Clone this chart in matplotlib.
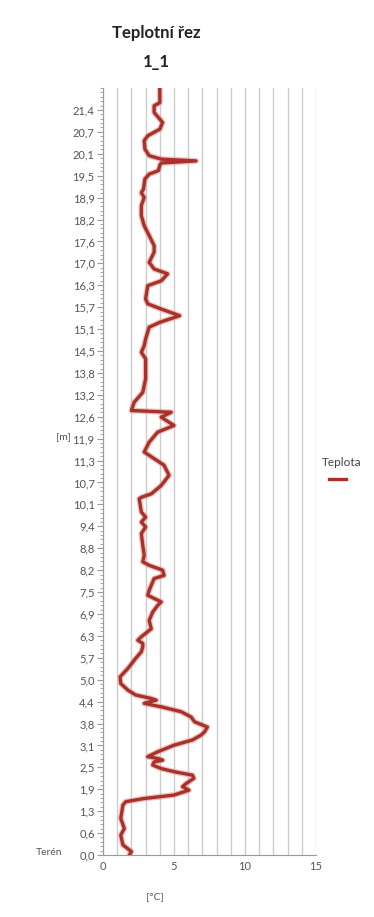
#! /usr/bin/env python3
# -*- coding: UTF-8 -*-

import matplotlib
matplotlib.use('Agg')
import matplotlib.pyplot as plt
from matplotlib.lines import Line2D
import numpy as np

# teplota [°C] a hloubka [m]
teplota = [4.0, 4.0, 3.6, 3.6, 4.2, 4.0, 3.15, 2.9, 2.95, 3.25, 4.1, 6.55, 4.1, 4.0,
           3.9, 3.25, 2.95, 2.85, 2.7, 2.9, 2.7, 2.7,
           2.9, 3.25, 3.6, 3.6, 3.25, 3.6, 4.55, 4.1, 3.15, 3.0, 3.15, 4.1, 5.4, 4.0,
           3.25, 3.0, 2.9,
           2.7, 3.0, 3.0, 2.8, 2.2, 2.0, 4.8, 4.1, 5.0, 3.85, 3.25, 2.9, 3.6, 4.3, 4.65,
           4.1, 3.4, 2.7, 2.55, 2.7, 3.0, 2.7, 3.0, 2.7, 2.8, 2.9, 2.8, 3.25, 4.2, 4.3,
           3.6, 3.25, 3.15, 4.1, 3.85,
           3.5, 3.25, 3.4, 2.7, 2.45, 2.8, 2.8, 2.7, 2.3, 1.75, 1.2, 1.25, 1.75, 2.3,
           3.4, 3.75, 3.25, 2.9, 4.1, 5.5, 6.2, 6.45, 7.35, 7.15, 6.9,
           6.3, 5.0, 3.85, 3.15, 3.85, 4.2, 3.6, 3.5, 4.1, 5.0, 6.3, 6.4, 5.85, 5.6,
           6.05, 5.0, 2.9, 1.6, 1.4, 1.25, 1.5, 1.25, 1.4, 2.0, 1.9]
hloubka = [21.97, 21.58, 21.49, 21.30, 21.01, 20.82, 20.63, 20.49, 20.25, 20.06, 19.96,
           19.91, 19.85, 19.79, 19.63, 19.53, 19.39, 19.10, 19.00, 18.86, 18.63, 18.34,
           18.05, 17.77, 17.48, 17.29, 17.00, 16.81, 16.67, 16.47, 16.33, 15.95, 15.81,
           15.66, 15.47, 15.28, 15.14, 14.80, 14.61,
           14.42, 14.23, 13.66, 13.27, 12.99, 12.75, 12.70, 12.56, 12.32, 12.13, 11.84,
           11.56, 11.37, 11.18, 10.89,
           10.60, 10.36, 10.26, 10.22, 9.84, 9.69, 9.55, 9.41, 9.22, 8.88, 8.60, 8.41,
           8.31, 8.17, 8.02, 7.93, 7.59, 7.45, 7.26, 7.16,
           6.97, 6.73, 6.49, 6.26, 6.16, 6.07, 5.97, 5.83, 5.64, 5.35, 5.11, 4.92, 4.73,
           4.59, 4.49, 4.44, 4.39, 4.35, 4.25, 4.11, 3.96, 3.82, 3.67, 3.53, 3.44,
           3.30, 3.15, 2.96, 2.82, 2.77, 2.72, 2.67, 2.58, 2.48, 2.39, 2.29, 2.20, 2.05,
           1.96, 1.86, 1.72, 1.62, 1.53, 1.43, 1.05, 0.76, 0.57, 0.29, 0.10, 0.03]

x_ticks = [0, 5, 10, 15]
y_max = 22.0
pocet_intervalu = 35

plt.rcParams['font.family'] = ['Lato', 'DejaVu Sans']

fig = plt.figure(figsize=(3.74, 9.17), dpi=100)
ax = fig.add_axes([0.2754, 0.0676, 0.5696, 0.8364])

# mrizka - svisle cary po 1 °C
ax.set_xlim(0, 15)
ax.set_ylim(0, y_max)
ax.set_xticks(x_ticks)
ax.set_xticks(np.arange(0, 16, 1), minor=True)
ax.grid(axis='x', which='both', color='#cccccc', linewidth=1.0)
ax.set_axisbelow(True)

y_ticks = np.arange(0, pocet_intervalu) * y_max / pocet_intervalu
y_labels = [('%.1f' % v).replace('.', ',') for v in y_ticks]
ax.set_yticks(y_ticks)
ax.set_yticklabels(y_labels)
ax.set_yticks(np.arange(0, pocet_intervalu * 5 + 1) * y_max / (pocet_intervalu * 5), minor=True)

ax.plot(teplota, hloubka, color='#e79a95', linewidth=4.2, alpha=0.6, solid_joinstyle='round')
ax.plot(teplota, hloubka, color='#a8322b', linewidth=2.4, solid_joinstyle='round')

for s in ['top', 'right']:
    ax.spines[s].set_visible(False)
ax.spines['left'].set_color('#9a9a9a')
ax.spines['bottom'].set_color('#9a9a9a')
ax.tick_params(axis='both', which='major', labelsize=8, colors='#9a9a9a',
               labelcolor='#555555', length=4, width=0.8)
ax.tick_params(axis='y', which='major', pad=2)
ax.tick_params(axis='y', which='minor', length=2.5, width=0.6, colors='#9a9a9a')
ax.tick_params(axis='x', which='minor', length=0)
ax.tick_params(axis='x', which='major', length=0, pad=4)

fig.text(0.418, 0.964, 'Teplotní řez', ha='center', va='center',
         fontsize=12, fontweight='bold', color='#222222')
fig.text(0.418, 0.932, '1_1', ha='center', va='center',
         fontsize=12, fontweight='bold', color='#222222')

fig.text(0.171, 0.523, '[m]', ha='center', va='center', fontsize=7.5, color='#555555')
fig.text(0.131, 0.070, 'Terén', ha='center', va='center', fontsize=7.5, color='#555555')
fig.text(0.415, 0.022, '[°C]', ha='center', va='center', fontsize=7.5, color='#555555')

# legenda
fig.text(0.861, 0.496, 'Teplota', ha='left', va='center', fontsize=8.5, color='#444444')
fig.add_artist(Line2D([0.88, 0.925], [0.478, 0.478], transform=fig.transFigure,
                      color='#a8322b', linewidth=2.4))

fig.savefig('out.png', dpi=100)
